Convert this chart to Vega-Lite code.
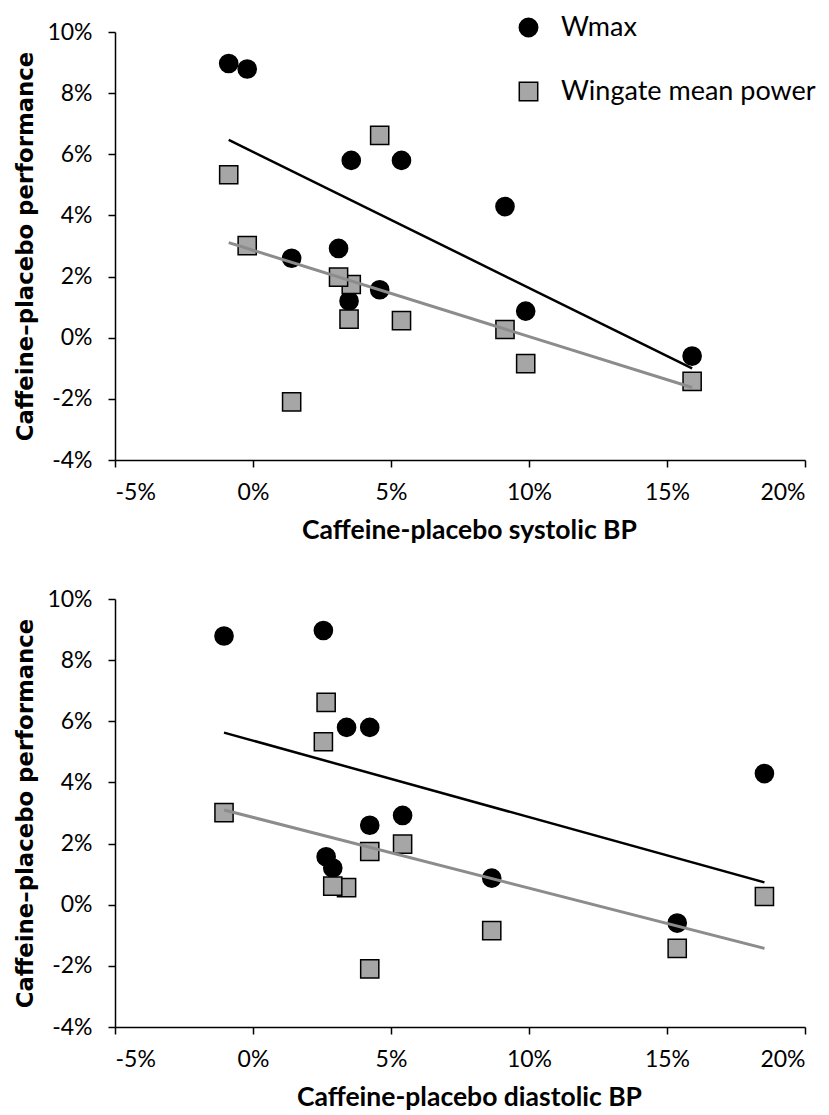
{
  "$schema": "https://vega.github.io/schema/vega-lite/v6.json",
  "background": "white",
  "padding": {"left": 14, "top": 14, "right": 5, "bottom": 5},
  "bounds": "flush",
  "spacing": 139,
  "config": {
    "view": {"stroke": null},
    "axis": {
      "grid": false,
      "domainColor": "black",
      "domainWidth": 1.5,
      "tickColor": "black",
      "tickWidth": 1.5,
      "tickSize": 7,
      "labelFont": "Lato",
      "labelFontSize": 23,
      "labelColor": "black",
      "titleColor": "black"
    }
  },
  "datasets": {
    "sys": [
      {"bp": -0.88, "perf": 8.97, "series": "Wmax"},
      {"bp": -0.21, "perf": 8.79, "series": "Wmax"},
      {"bp": 3.56, "perf": 5.80, "series": "Wmax"},
      {"bp": 5.38, "perf": 5.80, "series": "Wmax"},
      {"bp": 9.13, "perf": 4.29, "series": "Wmax"},
      {"bp": 3.10, "perf": 2.92, "series": "Wmax"},
      {"bp": 1.40, "perf": 2.60, "series": "Wmax"},
      {"bp": 4.59, "perf": 1.57, "series": "Wmax"},
      {"bp": 3.48, "perf": 1.20, "series": "Wmax"},
      {"bp": 9.88, "perf": 0.87, "series": "Wmax"},
      {"bp": 15.91, "perf": -0.60, "series": "Wmax"},
      {"bp": -0.88, "perf": 5.33, "series": "Wingate mean power"},
      {"bp": -0.21, "perf": 3.01, "series": "Wingate mean power"},
      {"bp": 3.56, "perf": 1.74, "series": "Wingate mean power"},
      {"bp": 5.38, "perf": 0.56, "series": "Wingate mean power"},
      {"bp": 9.13, "perf": 0.27, "series": "Wingate mean power"},
      {"bp": 3.10, "perf": 1.98, "series": "Wingate mean power"},
      {"bp": 1.40, "perf": -2.10, "series": "Wingate mean power"},
      {"bp": 4.59, "perf": 6.62, "series": "Wingate mean power"},
      {"bp": 3.48, "perf": 0.61, "series": "Wingate mean power"},
      {"bp": 9.88, "perf": -0.85, "series": "Wingate mean power"},
      {"bp": 15.91, "perf": -1.43, "series": "Wingate mean power"}
    ],
    "dia": [
      {"bp": 2.55, "perf": 8.97, "series": "Wmax"},
      {"bp": -1.05, "perf": 8.79, "series": "Wmax"},
      {"bp": 4.23, "perf": 5.80, "series": "Wmax"},
      {"bp": 3.39, "perf": 5.80, "series": "Wmax"},
      {"bp": 18.53, "perf": 4.29, "series": "Wmax"},
      {"bp": 5.42, "perf": 2.92, "series": "Wmax"},
      {"bp": 4.23, "perf": 2.60, "series": "Wmax"},
      {"bp": 2.65, "perf": 1.57, "series": "Wmax"},
      {"bp": 2.89, "perf": 1.20, "series": "Wmax"},
      {"bp": 8.65, "perf": 0.87, "series": "Wmax"},
      {"bp": 15.37, "perf": -0.60, "series": "Wmax"},
      {"bp": 2.55, "perf": 5.33, "series": "Wingate mean power"},
      {"bp": -1.05, "perf": 3.01, "series": "Wingate mean power"},
      {"bp": 4.23, "perf": 1.74, "series": "Wingate mean power"},
      {"bp": 3.39, "perf": 0.56, "series": "Wingate mean power"},
      {"bp": 18.53, "perf": 0.27, "series": "Wingate mean power"},
      {"bp": 5.42, "perf": 1.98, "series": "Wingate mean power"},
      {"bp": 4.23, "perf": -2.10, "series": "Wingate mean power"},
      {"bp": 2.65, "perf": 6.62, "series": "Wingate mean power"},
      {"bp": 2.89, "perf": 0.61, "series": "Wingate mean power"},
      {"bp": 8.65, "perf": -0.85, "series": "Wingate mean power"},
      {"bp": 15.37, "perf": -1.43, "series": "Wingate mean power"}
    ],
    "sysFit": [
      {"bp": -0.88, "perf": 6.47, "series": "Wmax"},
      {"bp": 15.91, "perf": -1.00, "series": "Wmax"},
      {"bp": -0.88, "perf": 3.11, "series": "Wingate mean power"},
      {"bp": 15.91, "perf": -1.63, "series": "Wingate mean power"}
    ],
    "diaFit": [
      {"bp": -1.05, "perf": 5.63, "series": "Wmax"},
      {"bp": 18.53, "perf": 0.73, "series": "Wmax"},
      {"bp": -1.05, "perf": 3.10, "series": "Wingate mean power"},
      {"bp": 18.53, "perf": -1.43, "series": "Wingate mean power"}
    ]
  },
  "resolve": {
    "scale": {"fill": "independent", "shape": "independent", "stroke": "independent"},
    "legend": {"fill": "independent", "shape": "independent", "stroke": "independent"}
  },
  "vconcat": [
    {
      "width": 690,
      "height": 428,
      "layer": [
        {
          "data": {"name": "sys"},
          "mark": {"type": "point", "filled": true, "strokeWidth": 1.5, "opacity": 1, "strokeOpacity": 1, "size": 330},
          "encoding": {
            "x": {"field": "bp", "type": "quantitative", "scale": {"domain": [-5, 20], "nice": false, "zero": false},
              "axis": {"values": [-5, 0, 5, 10, 15, 20], "labelExpr": "datum.value + '%'", "labelPadding": 14,
                "title": "Caffeine-placebo systolic BP", "titleFont": "Lato", "titleFontWeight": "bold", "titleFontSize": 26.5, "titlePadding": 13, "titleX": 354}},
            "y": {"field": "perf", "type": "quantitative", "scale": {"domain": [-4, 10], "nice": false, "zero": false},
              "axis": {"values": [-4, -2, 0, 2, 4, 6, 8, 10], "labelExpr": "datum.value + '%'", "labelPadding": 16,
                "title": "Caffeine–placebo performance", "titleFont": "DejaVu Sans", "titleFontWeight": "bold", "titleFontSize": 22.8, "titlePadding": 9}},
            "fill": {"field": "series", "type": "nominal",
              "scale": {"domain": ["Wmax", "Wingate mean power"], "range": ["black", "#a6a6a6"]},
              "legend": {"orient": "none", "legendX": 400, "legendY": -18, "title": null, "padding": 0,
                "labelFont": "Lato", "labelFontSize": 27, "labelColor": "black", "labelOffset": 19, "labelLimit": 0,
                "symbolSize": 340, "symbolStrokeWidth": 1.5, "rowPadding": 36}},
            "shape": {"field": "series", "type": "nominal",
              "scale": {"domain": ["Wmax", "Wingate mean power"], "range": ["circle", "square"]},
              "legend": {"orient": "none", "legendX": 400, "legendY": -18, "title": null, "padding": 0,
                "labelFont": "Lato", "labelFontSize": 27, "labelColor": "black", "labelOffset": 19, "labelLimit": 0,
                "symbolSize": 340, "symbolStrokeWidth": 1.5, "rowPadding": 36}},
            "stroke": {"field": "series", "type": "nominal",
              "scale": {"domain": ["Wmax", "Wingate mean power"], "range": ["black", "black"]},
              "legend": {"orient": "none", "legendX": 400, "legendY": -18, "title": null, "padding": 0,
                "labelFont": "Lato", "labelFontSize": 27, "labelColor": "black", "labelOffset": 19, "labelLimit": 0,
                "symbolSize": 340, "symbolStrokeWidth": 1.5, "rowPadding": 36}}
          }
        },
        {
          "data": {"name": "sysFit"},
          "transform": [{"filter": "datum.series === 'Wmax'"}],
          "mark": {"type": "line", "color": "black", "strokeWidth": 2.5},
          "encoding": {"x": {"field": "bp", "type": "quantitative"}, "y": {"field": "perf", "type": "quantitative"}}
        },
        {
          "data": {"name": "sysFit"},
          "transform": [{"filter": "datum.series === 'Wingate mean power'"}],
          "mark": {"type": "line", "color": "#8c8c8c", "strokeWidth": 3},
          "encoding": {"x": {"field": "bp", "type": "quantitative"}, "y": {"field": "perf", "type": "quantitative"}}
        }
      ]
    },
    {
      "width": 690,
      "height": 428,
      "layer": [
        {
          "data": {"name": "dia"},
          "mark": {"type": "point", "filled": true, "stroke": "black", "strokeWidth": 1.5, "opacity": 1, "size": 330},
          "encoding": {
            "x": {"field": "bp", "type": "quantitative", "scale": {"domain": [-5, 20], "nice": false, "zero": false},
              "axis": {"values": [-5, 0, 5, 10, 15, 20], "labelExpr": "datum.value + '%'", "labelPadding": 14,
                "title": "Caffeine-placebo diastolic BP", "titleFont": "Lato", "titleFontWeight": "bold", "titleFontSize": 26.5, "titlePadding": 13, "titleX": 354}},
            "y": {"field": "perf", "type": "quantitative", "scale": {"domain": [-4, 10], "nice": false, "zero": false},
              "axis": {"values": [-4, -2, 0, 2, 4, 6, 8, 10], "labelExpr": "datum.value + '%'", "labelPadding": 16,
                "title": "Caffeine–placebo performance", "titleFont": "DejaVu Sans", "titleFontWeight": "bold", "titleFontSize": 22.8, "titlePadding": 9}},
            "fill": {"field": "series", "type": "nominal",
              "scale": {"domain": ["Wmax", "Wingate mean power"], "range": ["black", "#a6a6a6"]}, "legend": null},
            "shape": {"field": "series", "type": "nominal",
              "scale": {"domain": ["Wmax", "Wingate mean power"], "range": ["circle", "square"]}, "legend": null}
          }
        },
        {
          "data": {"name": "diaFit"},
          "transform": [{"filter": "datum.series === 'Wmax'"}],
          "mark": {"type": "line", "color": "black", "strokeWidth": 2.5},
          "encoding": {"x": {"field": "bp", "type": "quantitative"}, "y": {"field": "perf", "type": "quantitative"}}
        },
        {
          "data": {"name": "diaFit"},
          "transform": [{"filter": "datum.series === 'Wingate mean power'"}],
          "mark": {"type": "line", "color": "#8c8c8c", "strokeWidth": 3},
          "encoding": {"x": {"field": "bp", "type": "quantitative"}, "y": {"field": "perf", "type": "quantitative"}}
        }
      ]
    }
  ]
}
